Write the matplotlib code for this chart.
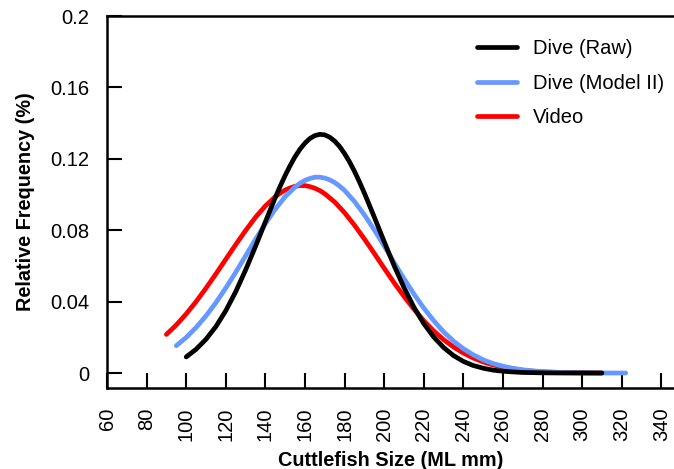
import matplotlib.pyplot as plt

plt.rcParams['font.family'] = ['Liberation Sans', 'DejaVu Sans']

# Dive (Raw)
raw_x = [100, 105, 110, 115, 120, 125, 130, 135, 140, 145, 147.5, 150, 152.5, 155, 157.5,
         160, 162.5, 165, 167.5, 170, 172.5, 175, 177.5, 180, 182.5, 185, 187.5, 190, 195,
         200, 205, 210, 215, 220, 225, 230, 235, 240, 245, 250, 255, 260, 265, 270, 280,
         290, 300, 310]
raw_y = [0.0090, 0.0133, 0.0189, 0.0260, 0.0349, 0.0455, 0.0577, 0.0709, 0.0847, 0.0983,
         0.1047, 0.1107, 0.1162, 0.1212, 0.1254, 0.1288, 0.1314, 0.1330, 0.1337, 0.1334,
         0.1321, 0.1299, 0.1269, 0.1229, 0.1183, 0.1130, 0.1071, 0.1008, 0.0874, 0.0736,
         0.0602, 0.0479, 0.0369, 0.0277, 0.0202, 0.0143, 0.0098, 0.0065, 0.0042, 0.0027,
         0.0016, 0.0010, 0.0006, 0.0003, 0.0001, 0.0, 0.0, 0.0]

# Dive (Model II)
model_x = [95, 100, 105, 110, 115, 120, 125, 130, 135, 140, 145, 150, 155, 157.5, 160,
           162.5, 165, 167.5, 170, 172.5, 175, 177.5, 180, 185, 190, 195, 200, 205, 210,
           215, 220, 225, 230, 235, 240, 245, 250, 255, 260, 265, 270, 275, 280, 290, 300,
           310, 322]
model_y = [0.0153, 0.0199, 0.0255, 0.0320, 0.0394, 0.0476, 0.0564, 0.0656, 0.0748, 0.0837,
           0.0918, 0.0988, 0.1042, 0.1063, 0.1079, 0.1090, 0.1097, 0.1097, 0.1092, 0.1082,
           0.1067, 0.1047, 0.1023, 0.0961, 0.0886, 0.0802, 0.0712, 0.0619, 0.0529, 0.0443,
           0.0364, 0.0293, 0.0231, 0.0179, 0.0136, 0.0102, 0.0074, 0.0053, 0.0038, 0.0026,
           0.0018, 0.0012, 0.0008, 0.0003, 0.0001, 0.0, 0.0]

# Video
video_x = [90, 95, 100, 105, 110, 115, 120, 125, 130, 135, 140, 145, 147.5, 150, 152.5,
           155, 157.5, 160, 162.5, 165, 167.5, 170, 175, 180, 185, 190, 195, 200, 205, 210,
           215, 220, 225, 230, 235, 240, 245, 250, 255, 260, 270, 280, 290, 300, 310]
video_y = [0.0216, 0.0269, 0.0331, 0.0400, 0.0475, 0.0555, 0.0637, 0.0719, 0.0798, 0.0872,
           0.0936, 0.0987, 0.1008, 0.1025, 0.1037, 0.1046, 0.1050, 0.1050, 0.1044, 0.1035,
           0.1022, 0.1004, 0.0958, 0.0898, 0.0828, 0.0751, 0.0670, 0.0587, 0.0506, 0.0429,
           0.0358, 0.0293, 0.0236, 0.0187, 0.0146, 0.0112, 0.0084, 0.0062, 0.0045, 0.0033,
           0.0015, 0.0006, 0.0002, 0.0001, 0.0]

xticks = list(range(60, 341, 20))
yticks = [0, 0.04, 0.08, 0.12, 0.16, 0.2]
ytick_labels = ['0', '0.04', '0.08', '0.12', '0.16', '0.2']

fig = plt.figure(figsize=(6.74, 4.69), dpi=100)
ax = fig.add_axes([107 / 674, 81 / 469, 1 - 107 / 674, 372 / 469])

lw = 3.4
ax.plot(video_x, video_y, color='#ff0000', lw=lw, solid_capstyle='round',
        solid_joinstyle='round', label='Video', zorder=2)
ax.plot(model_x, model_y, color='#6699ff', lw=lw, solid_capstyle='round',
        solid_joinstyle='round', label='Dive (Model II)', zorder=3)
ax.plot(raw_x, raw_y, color='black', lw=lw, solid_capstyle='round',
        solid_joinstyle='round', label='Dive (Raw)', zorder=4)

ax.set_xlim(60, 346.4)
ax.set_ylim(-0.0084, 0.2)

ax.set_xticks(xticks)
ax.set_xticklabels([str(t) for t in xticks], rotation=90)
ax.set_yticks(yticks)
ax.set_yticklabels(ytick_labels)
ax.tick_params(axis='both', direction='in', length=11, width=1.5, labelsize=14.5)
ax.tick_params(axis='y', pad=13)
ax.tick_params(axis='x', pad=14)

for s in ['left', 'bottom', 'top']:
    ax.spines[s].set_linewidth(1.8)
ax.spines['right'].set_visible(False)

ax.set_xlabel('Cuttlefish Size (ML mm)', fontsize=14.3, fontweight='bold', labelpad=7)
ax.set_ylabel('Relative Frequency (%)', fontsize=14.3, fontweight='bold', labelpad=10.5)

handles, labels = ax.get_legend_handles_labels()
order = [2, 1, 0]
ax.legend([handles[i] for i in order], [labels[i] for i in order],
          loc='upper left', bbox_to_anchor=(477 / 674, 1 - 39 / 469),
          bbox_transform=fig.transFigure, frameon=False, fontsize=14.5,
          handlelength=2.0, handletextpad=0.8, labelspacing=0.78, borderpad=0,
          borderaxespad=0)

fig.savefig('out.png', dpi=100)
